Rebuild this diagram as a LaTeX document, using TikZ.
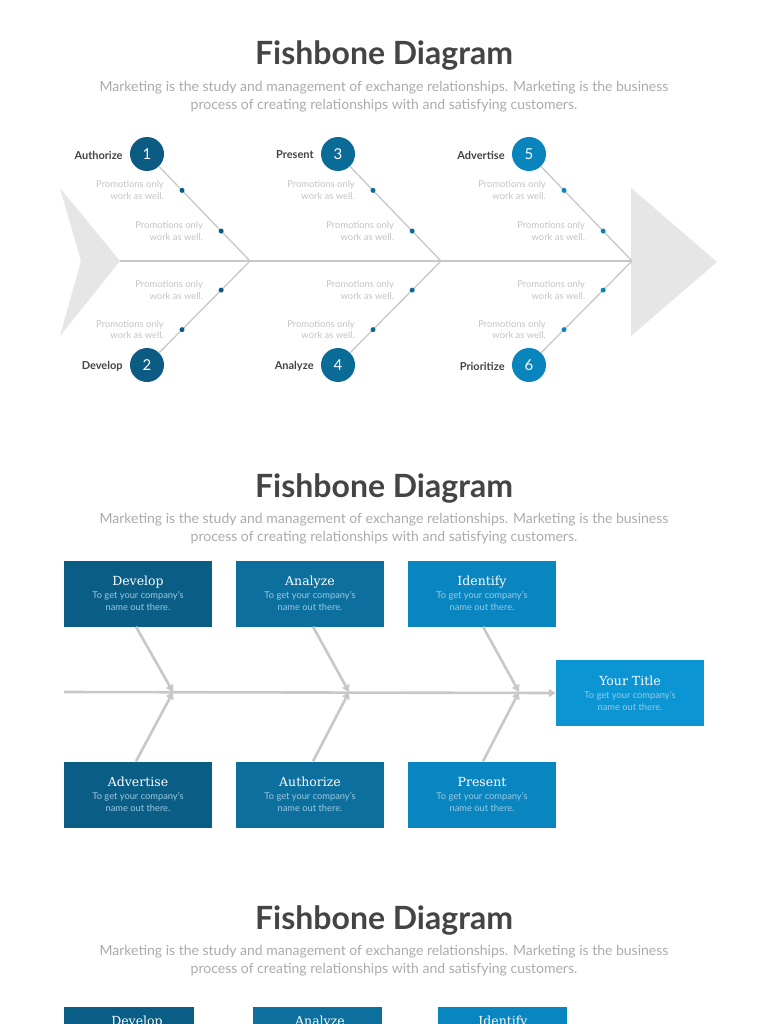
\documentclass[tikz,border=0pt]{standalone}
\usepackage{fontspec}
\setmainfont{Lato}
\newfontfamily\boxserif{DejaVu Serif}
\usetikzlibrary{arrows.meta,calc}
\definecolor{cdark}{HTML}{0B5B82}
\definecolor{cmid}{HTML}{0A6B96}
\definecolor{clight}{HTML}{0A84BD}
\definecolor{bdark}{HTML}{0A5E86}
\definecolor{bmid}{HTML}{0C6F9D}
\definecolor{blight}{HTML}{0986C0}
\definecolor{btitle}{HTML}{0B95D3}
\definecolor{titlegray}{HTML}{444444}
\definecolor{subgray}{HTML}{ABABAB}
\definecolor{promogray}{HTML}{C4C4C4}
\definecolor{bonegray}{HTML}{C8C8C8}
\definecolor{fishgray}{HTML}{E6E6E6}
\definecolor{boxsub}{HTML}{9CC9E2}
\newcommand{\bxhead}[1]{{\boxserif\fontsize{12.5}{14}\selectfont #1}}
\newcommand{\bxsub}[1]{{\fontsize{9.3}{11.5}\selectfont\color{boxsub}#1}}
\tikzset{
  x=1pt, y=-1pt,
  maintitle/.style={font=\fontsize{32}{36}\selectfont\bfseries, text=titlegray, inner sep=0pt},
  subtitle/.style={font=\fontsize{14}{17.5}\selectfont, text=subgray, align=center, inner sep=0pt},
  numcircle/.style={circle, minimum size=34pt, inner sep=0pt, text=white, font=\fontsize{15}{15}\selectfont},
  causelabel/.style={font=\fontsize{11}{12}\selectfont\bfseries, text=titlegray, anchor=east, inner sep=0pt},
  promo/.style={font=\fontsize{9.4}{11.8}\selectfont, text=promogray, align=right, anchor=east, inner sep=0pt},
  bone/.style={draw=bonegray, line width=1.3pt},
  bonedot/.style={circle, minimum size=5pt, inner sep=0pt},
  fishbox/.style={minimum width=148pt, minimum height=66pt, inner sep=0pt, align=center, text=white},
  arrbone/.style={draw=bonegray, line width=2.6pt, -{Triangle[length=7pt, width=8pt]}},
}
\begin{document}
\begin{tikzpicture}
\clip (0,0) rectangle (768,1024);
\fill[white] (0,0) rectangle (768,1024);

% ---------------- Diagram 1 ----------------
\node[maintitle] (t1) at (384,56) {Fishbone Diagram};
\node[subtitle] (s1) at (384,96.5) {Marketing is the study and management of exchange relationships. Marketing is the business\\process of creating relationships with and satisfying customers.};

\fill[fishgray] (60,188) -- (120,261) -- (60,336) -- (81,261) -- cycle;
\fill[fishgray] (631,188) -- (717,262) -- (631,336) -- cycle;
\coordinate (tail) at (120,261);
\coordinate (j1) at (250,261);
\coordinate (j2) at (441,261);
\coordinate (j3) at (632,261);
\draw[bone] (tail) -- (j1) -- (j2) -- (j3);

\foreach \k/\cx/\col/\up/\down/\nu/\nd in {1/147/cdark/Authorize/Develop/1/2, 2/338/cmid/Present/Analyze/3/4, 3/529/clight/Advertise/Prioritize/5/6}{
  \node[numcircle, fill=\col] (cu\k) at (\cx,154) {\nu};
  \node[numcircle, fill=\col] (cd\k) at (\cx,365) {\nd};
  \node[causelabel] (lu\k) at ($(cu\k.west)+(-7,1)$) {\up};
  \node[causelabel] (ld\k) at ($(cd\k.west)+(-7,1)$) {\down};
  \draw[bone] (cu\k) -- (j\k);
  \draw[bone] (cd\k) -- (j\k);
  \node[bonedot, fill=\col] (du\k a) at ($(cu\k.center)!0.34!(j\k)$) {};
  \node[bonedot, fill=\col] (du\k b) at ($(cu\k.center)!0.72!(j\k)$) {};
  \node[bonedot, fill=\col] (dd\k a) at ($(cd\k.center)!0.34!(j\k)$) {};
  \node[bonedot, fill=\col] (dd\k b) at ($(cd\k.center)!0.72!(j\k)$) {};
  \node[promo] (pu\k a) at ($(du\k a)+(-18,0)$) {Promotions only\\work as well.};
  \node[promo] (pu\k b) at ($(du\k b)+(-18,0)$) {Promotions only\\work as well.};
  \node[promo] (pd\k a) at ($(dd\k a)+(-18,0)$) {Promotions only\\work as well.};
  \node[promo] (pd\k b) at ($(dd\k b)+(-18,0)$) {Promotions only\\work as well.};
}

% ---------------- Diagram 2 ----------------
\node[maintitle] (t2) at (384,488) {Fishbone Diagram};
\node[subtitle] (s2) at (384,528.5) {Marketing is the study and management of exchange relationships. Marketing is the business\\process of creating relationships with and satisfying customers.};

\node[fishbox, fill=bdark] (b1) at (138,593.5) {\bxhead{Develop}\\[1pt]\bxsub{To get your company's}\\\bxsub{name out there.}};
\node[fishbox, fill=bmid] (b2) at (310,593.5) {\bxhead{Analyze}\\[1pt]\bxsub{To get your company's}\\\bxsub{name out there.}};
\node[fishbox, fill=blight] (b3) at (482,593.5) {\bxhead{Identify}\\[1pt]\bxsub{To get your company's}\\\bxsub{name out there.}};
\node[fishbox, fill=bdark] (b4) at (138,794.5) {\bxhead{Advertise}\\[1pt]\bxsub{To get your company's}\\\bxsub{name out there.}};
\node[fishbox, fill=bmid] (b5) at (310,794.5) {\bxhead{Authorize}\\[1pt]\bxsub{To get your company's}\\\bxsub{name out there.}};
\node[fishbox, fill=blight] (b6) at (482,794.5) {\bxhead{Present}\\[1pt]\bxsub{To get your company's}\\\bxsub{name out there.}};
\node[fishbox, fill=btitle] (b7) at (630,693) {\bxhead{Your Title}\\[1pt]\bxsub{To get your company's}\\\bxsub{name out there.}};

\coordinate (sp0) at (64,692);
\coordinate (k1) at (173,692);
\coordinate (k2) at (349,692);
\coordinate (k3) at (519,692);
\draw[arrbone] (sp0) -- (b7.west);
\draw[arrbone] ($(b1.south)+(-2,0)$) -- (k1);
\draw[arrbone] ($(b4.north)+(-2,0)$) -- (k1);
\draw[arrbone] ($(b2.south)+(3,0)$) -- (k2);
\draw[arrbone] ($(b5.north)+(3,0)$) -- (k2);
\draw[arrbone] ($(b3.south)+(1,0)$) -- (k3);
\draw[arrbone] ($(b6.north)+(1,0)$) -- (k3);

% ---------------- Diagram 3 ----------------
\node[maintitle] (t3) at (384,920) {Fishbone Diagram};
\node[subtitle] (s3) at (384,960.5) {Marketing is the study and management of exchange relationships. Marketing is the business\\process of creating relationships with and satisfying customers.};

\node[minimum width=130pt, minimum height=66pt, inner sep=0pt, fill=bdark, anchor=north] (c1) at (129,1007) {};
\node[minimum width=129pt, minimum height=66pt, inner sep=0pt, fill=bmid, anchor=north] (c2) at (317.5,1007) {};
\node[minimum width=129pt, minimum height=66pt, inner sep=0pt, fill=blight, anchor=north] (c3) at (502.5,1007) {};
\node[text=white, font=\boxserif\fontsize{12.5}{14}\selectfont, anchor=north, inner sep=0pt] (c1t) at (137,1016) {Develop};
\node[text=white, font=\boxserif\fontsize{12.5}{14}\selectfont, anchor=north, inner sep=0pt] (c2t) at (320,1016) {Analyze};
\node[text=white, font=\boxserif\fontsize{12.5}{14}\selectfont, anchor=north, inner sep=0pt] (c3t) at (503,1016) {Identify};
\end{tikzpicture}
\end{document}
